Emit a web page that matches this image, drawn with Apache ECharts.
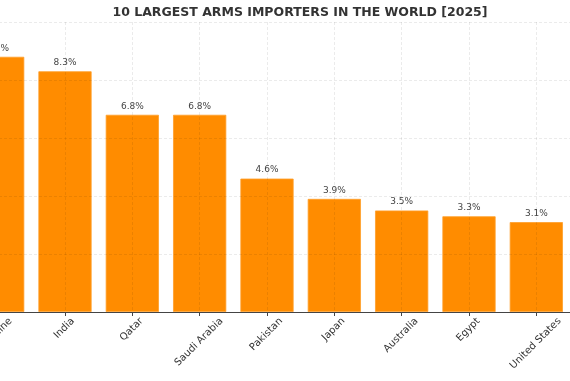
<!DOCTYPE html>
<html>
<head>
<meta charset="utf-8">
<script src="https://cdn.jsdelivr.net/npm/echarts@6/dist/echarts.min.js"></script>
<style>
html,body{margin:0;padding:0;background:#fff;overflow:hidden;width:570px;height:381px}
#c{width:606px;height:381px;margin-left:-36px}
</style>
</head>
<body>
<div id="c"></div>
<script>
const categories = ['Ukraine', 'India', 'Qatar', 'Saudi Arabia', 'Pakistan', 'Japan', 'Australia', 'Egypt', 'United States'];
const shares = [8.8, 8.3, 6.8, 6.8, 4.6, 3.9, 3.5, 3.3, 3.1];
const titleText = '10 LARGEST ARMS IMPORTERS IN THE WORLD [2025]';

const LABEL_FONT = '10px "DejaVu Sans"';
const LABEL_H = 12;
const LABEL_MARGIN = 4;
const LABEL_GAP = 4;
const ctx = document.createElement('canvas').getContext('2d');
ctx.font = LABEL_FONT;
// matplotlib-style rotated labels: bounding box centred under the tick
const xData = categories.map(name => {
  const w = ctx.measureText(name).width;
  const half = (w + LABEL_H) * Math.SQRT1_2 / 2;
  const D = Math.max(0, LABEL_GAP + half - LABEL_MARGIN);
  const pr = D * Math.SQRT2;
  const pt = Math.max(0, D * Math.SQRT1_2 - LABEL_H / 2);
  return {value: name, textStyle: {align: 'center', verticalAlign: 'top', padding: [pt, pr, 0, 0]}};
});

const chart = echarts.init(document.getElementById('c'), null, {renderer: 'canvas'});
chart.setOption({
  animation: false,
  backgroundColor: '#ffffff',
  textStyle: {fontFamily: 'DejaVu Sans'},
  title: {
    text: titleText,
    left: 331, top: 1, textAlign: 'center',
    textStyle: {fontFamily: 'DejaVu Sans', fontWeight: 'bold', fontSize: 12.5, color: '#333333'}
  },
  grid: {left: 0, right: 0, top: 22, bottom: 69, containLabel: false, outerBoundsMode: 'none'},
  xAxis: {
    type: 'category',
    data: xData,
    z: 5,
    axisLine: {lineStyle: {color: '#444444', width: 1}},
    axisTick: {show: true, alignWithLabel: true, length: 4, lineStyle: {color: '#444444'}},
    axisLabel: {rotate: 45, align: 'center', verticalAlign: 'top', fontSize: 10, color: '#333333',
      margin: LABEL_MARGIN, fontFamily: 'DejaVu Sans', interval: 0, hideOverlap: false},
    splitLine: {show: true, alignWithLabel: true, lineStyle: {color: 'rgba(0,0,0,0.1)', type: [3, 2], width: 0.8}}
  },
  yAxis: {
    type: 'value', min: 0, max: 10, interval: 2,
    z: 5,
    axisLabel: {show: false},
    axisLine: {show: false}, axisTick: {show: false},
    splitLine: {show: true, lineStyle: {color: 'rgba(0,0,0,0.1)', type: [3, 2], width: 0.8}}
  },
  series: [{
    type: 'bar',
    data: shares,
    barWidth: '79%',
    itemStyle: {color: '#FF8C00', borderColor: '#FF9E2A', borderWidth: 0.8},
    label: {
      show: true, position: 'top', distance: 4,
      formatter: p => p.value.toFixed(1) + '%',
      fontSize: 9, color: '#444444', fontFamily: 'DejaVu Sans'
    }
  }]
});
</script>
</body>
</html>
